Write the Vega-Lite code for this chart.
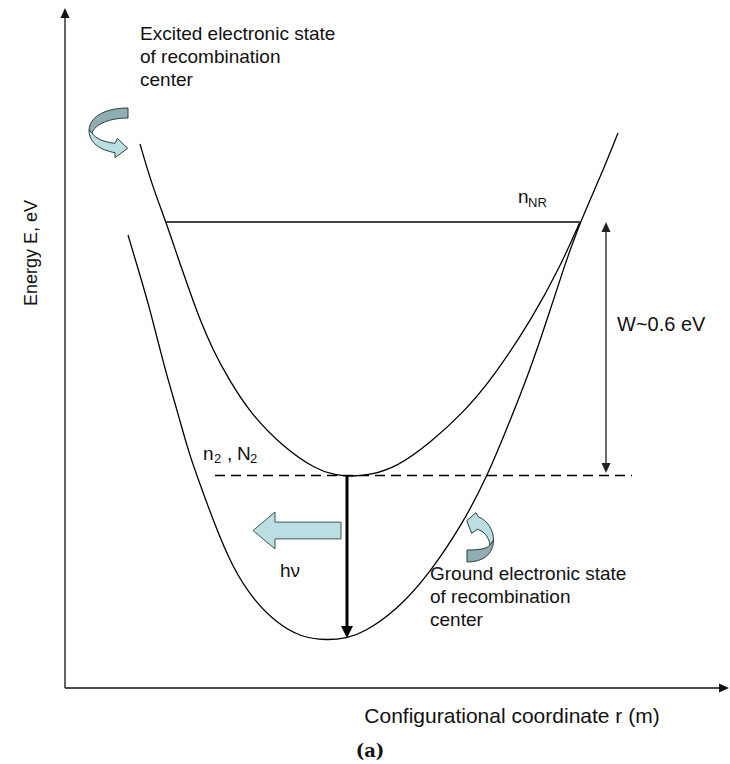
{
  "$schema": "https://vega.github.io/schema/vega-lite/v6.json",
  "width": 730,
  "height": 764,
  "autosize": {"type": "fit", "contains": "padding"},
  "padding": 0,
  "background": "white",
  "config": {"view": {"stroke": null}},
  "datasets": {
    "curves": [
      {"curve": "excited", "r": 75, "E": 544}, {"curve": "excited", "r": 87, "E": 503}, {"curve": "excited", "r": 101, "E": 466},
      {"curve": "excited", "r": 113, "E": 430}, {"curve": "excited", "r": 125, "E": 396}, {"curve": "excited", "r": 135, "E": 368},
      {"curve": "excited", "r": 148, "E": 338}, {"curve": "excited", "r": 163, "E": 310}, {"curve": "excited", "r": 185, "E": 275},
      {"curve": "excited", "r": 218, "E": 241}, {"curve": "excited", "r": 252, "E": 218}, {"curve": "excited", "r": 270, "E": 213},
      {"curve": "excited", "r": 287, "E": 211.5}, {"curve": "excited", "r": 305, "E": 213}, {"curve": "excited", "r": 332, "E": 221},
      {"curve": "excited", "r": 365, "E": 245}, {"curve": "excited", "r": 398, "E": 275}, {"curve": "excited", "r": 428, "E": 310},
      {"curve": "excited", "r": 468, "E": 371}, {"curve": "excited", "r": 495, "E": 421}, {"curve": "excited", "r": 515, "E": 466},
      {"curve": "ground", "r": 63, "E": 453}, {"curve": "ground", "r": 74, "E": 416}, {"curve": "ground", "r": 85, "E": 379},
      {"curve": "ground", "r": 99, "E": 322}, {"curve": "ground", "r": 112, "E": 278}, {"curve": "ground", "r": 123, "E": 238},
      {"curve": "ground", "r": 132, "E": 212}, {"curve": "ground", "r": 148, "E": 168}, {"curve": "ground", "r": 167, "E": 121},
      {"curve": "ground", "r": 190, "E": 86}, {"curve": "ground", "r": 212, "E": 65}, {"curve": "ground", "r": 235, "E": 51},
      {"curve": "ground", "r": 262, "E": 47.5}, {"curve": "ground", "r": 282, "E": 50}, {"curve": "ground", "r": 298, "E": 55},
      {"curve": "ground", "r": 332, "E": 78}, {"curve": "ground", "r": 365, "E": 115}, {"curve": "ground", "r": 398, "E": 165},
      {"curve": "ground", "r": 422, "E": 211}, {"curve": "ground", "r": 445, "E": 267}, {"curve": "ground", "r": 465, "E": 318},
      {"curve": "ground", "r": 482, "E": 368}, {"curve": "ground", "r": 498, "E": 418}, {"curve": "ground", "r": 515, "E": 466},
      {"curve": "ground", "r": 535, "E": 510}, {"curve": "ground", "r": 553, "E": 555}
    ],
    "segments": [
      {"kind": "axis", "r": 0, "E": 0, "r2": 0, "E2": 673},
      {"kind": "axis", "r": 0, "E": 0, "r2": 657, "E2": 0},
      {"kind": "nnr", "r": 101, "E": 466, "r2": 515, "E2": 466},
      {"kind": "dash", "r": 150, "E": 212.5, "r2": 567, "E2": 212.5},
      {"kind": "w", "r": 541, "E": 220, "r2": 541, "E2": 461},
      {"kind": "emit", "r": 282, "E": 212, "r2": 282, "E2": 58}
    ],
    "heads": [
      {"kind": "axis_up", "r": 0, "E": 675},
      {"kind": "axis_right", "r": 659, "E": 0},
      {"kind": "w_up", "r": 541, "E": 461},
      {"kind": "w_down", "r": 541, "E": 220},
      {"kind": "emit_down", "r": 282, "E": 56}
    ],
    "shapes": [
      {"kind": "hv", "r": 232, "E": 157.5},
      {"kind": "curl_tl", "r": 43, "E": 556},
      {"kind": "curl_br", "r": 415, "E": 151}
    ],
    "labels": [
      {"g": "main", "t": "Excited electronic state", "r": 75, "E": 648},
      {"g": "main", "t": "of recombination", "r": 75, "E": 625},
      {"g": "main", "t": "center", "r": 75, "E": 602},
      {"g": "main", "t": "Ground electronic state", "r": 365, "E": 108},
      {"g": "main", "t": "of recombination", "r": 365, "E": 85},
      {"g": "main", "t": "center", "r": 365, "E": 62},
      {"g": "main", "t": "hν", "r": 215, "E": 111},
      {"g": "main", "t": "n", "r": 453, "E": 485},
      {"g": "main", "t": "n", "r": 138, "E": 228},
      {"g": "main", "t": ",", "r": 162, "E": 228},
      {"g": "main", "t": "N", "r": 172, "E": 228},
      {"g": "sub", "t": "NR", "r": 463, "E": 481},
      {"g": "sub", "t": "2", "r": 149, "E": 225},
      {"g": "sub", "t": "2", "r": 185, "E": 225},
      {"g": "w", "t": "W~0.6 eV", "r": 552, "E": 357},
      {"g": "xt", "t": "Configurational coordinate r (m)", "r": 447, "E": -35},
      {"g": "yt", "t": "Energy E, eV", "r": -28, "E": 435},
      {"g": "cap", "t": "(a)", "r": 305, "E": -69}
    ]
  },
  "encoding": {
    "x": {"field": "r", "type": "quantitative", "scale": {"domain": [-65, 665], "nice": false, "zero": false}, "axis": null},
    "y": {"field": "E", "type": "quantitative", "scale": {"domain": [-76, 688], "nice": false, "zero": false}, "axis": null}
  },
  "layer": [
    {
      "data": {"name": "curves"},
      "mark": {"type": "line", "interpolate": "basis", "color": "black", "strokeWidth": 1.3},
      "encoding": {"detail": {"field": "curve", "type": "nominal"}}
    },
    {
      "data": {"name": "segments"},
      "transform": [{"filter": "datum.kind === 'axis'"}],
      "mark": {"type": "rule", "color": "#111", "strokeWidth": 1.3},
      "encoding": {"x2": {"field": "r2"}, "y2": {"field": "E2"}}
    },
    {
      "data": {"name": "segments"},
      "transform": [{"filter": "datum.kind === 'nnr'"}],
      "mark": {"type": "rule", "color": "#444", "strokeWidth": 2},
      "encoding": {"x2": {"field": "r2"}, "y2": {"field": "E2"}}
    },
    {
      "data": {"name": "segments"},
      "transform": [{"filter": "datum.kind === 'dash'"}],
      "mark": {"type": "rule", "color": "black", "strokeWidth": 1.3, "strokeDash": [10, 6]},
      "encoding": {"x2": {"field": "r2"}, "y2": {"field": "E2"}}
    },
    {
      "data": {"name": "segments"},
      "transform": [{"filter": "datum.kind === 'w'"}],
      "mark": {"type": "rule", "color": "#444", "strokeWidth": 1.6},
      "encoding": {"x2": {"field": "r2"}, "y2": {"field": "E2"}}
    },
    {
      "data": {"name": "segments"},
      "transform": [{"filter": "datum.kind === 'emit'"}],
      "mark": {"type": "rule", "color": "black", "strokeWidth": 3},
      "encoding": {"x2": {"field": "r2"}, "y2": {"field": "E2"}}
    },
    {
      "data": {"name": "heads"},
      "transform": [{"filter": "datum.kind === 'axis_up'"}],
      "mark": {"type": "point", "shape": "M0,-1L0.9,1L-0.9,1Z", "size": 100, "filled": true, "fill": "#111", "stroke": null, "opacity": 1}
    },
    {
      "data": {"name": "heads"},
      "transform": [{"filter": "datum.kind === 'axis_right'"}],
      "mark": {"type": "point", "shape": "M1,0L-1,0.9L-1,-0.9Z", "size": 100, "filled": true, "fill": "#111", "stroke": null, "opacity": 1}
    },
    {
      "data": {"name": "heads"},
      "transform": [{"filter": "datum.kind === 'w_up'"}],
      "mark": {"type": "point", "shape": "M0,-1L0.9,1L-0.9,1Z", "size": 100, "filled": true, "fill": "#222", "stroke": null, "opacity": 1}
    },
    {
      "data": {"name": "heads"},
      "transform": [{"filter": "datum.kind === 'w_down'"}],
      "mark": {"type": "point", "shape": "M0,1L0.9,-1L-0.9,-1Z", "size": 100, "filled": true, "fill": "#222", "stroke": null, "opacity": 1}
    },
    {
      "data": {"name": "heads"},
      "transform": [{"filter": "datum.kind === 'emit_down'"}],
      "mark": {"type": "point", "shape": "M0,1L1,-1L-1,-1Z", "size": 144, "filled": true, "fill": "black", "stroke": null, "opacity": 1}
    },
    {
      "data": {"name": "shapes"},
      "transform": [{"filter": "datum.kind === 'hv'"}],
      "mark": {"type": "point", "shape": "M-1,0L-0.5,-0.42L-0.5,-0.19L1,-0.19L1,0.19L-0.5,0.19L-0.5,0.42Z", "size": 7744, "filled": true, "fill": "#badfe3", "stroke": "#3d5555", "strokeWidth": 1, "opacity": 1}
    },
    {
      "data": {"name": "shapes"},
      "transform": [{"filter": "datum.kind === 'curl_tl'"}],
      "mark": {"type": "point", "shape": "M1,-1.2C0,-1.2 -0.9,-0.85 -0.95,-0.1L-0.8,0.05C-0.65,-0.4 0.1,-0.7 1,-0.7Z", "size": 1600, "filled": true, "fill": "#90aeb1", "stroke": "#2c3c3c", "strokeWidth": 1, "opacity": 1}
    },
    {
      "data": {"name": "shapes"},
      "transform": [{"filter": "datum.kind === 'curl_tl'"}],
      "mark": {"type": "point", "shape": "M-0.95,-0.1C-0.95,0.55 -0.4,0.9 0.35,1.035L0.35,1.285L0.985,0.815L0.465,0.315L0.35,0.565C-0.2,0.5 -0.6,0.35 -0.8,0.05Z", "size": 1600, "filled": true, "fill": "#badfe3", "stroke": "#2c3c3c", "strokeWidth": 1, "opacity": 1}
    },
    {
      "data": {"name": "shapes"},
      "transform": [{"filter": "datum.kind === 'curl_br'"}],
      "mark": {"type": "point", "shape": "M0.964,0.214C0.964,1.286 0.143,1.786 -0.929,1.786L-0.929,0.929C-0.143,0.929 0.5,0.857 0.714,0.571Z", "size": 784, "filled": true, "fill": "#90aeb1", "stroke": "#2c3c3c", "strokeWidth": 1, "opacity": 1}
    },
    {
      "data": {"name": "shapes"},
      "transform": [{"filter": "datum.kind === 'curl_br'"}],
      "mark": {"type": "point", "shape": "M-0.95,-1.164L-0.286,-1.736L-0.143,-1.464C0.571,-1.143 0.964,-0.5 0.964,0.214L0.714,0.571C0.643,0 0.286,-0.429 -0.193,-0.55L-0.593,-0.264Z", "size": 784, "filled": true, "fill": "#badfe3", "stroke": "#2c3c3c", "strokeWidth": 1, "opacity": 1}
    },
    {
      "data": {"name": "labels"},
      "transform": [{"filter": "datum.g === 'main'"}],
      "mark": {"type": "text", "font": "Liberation Sans", "fontSize": 19, "align": "left", "baseline": "alphabetic", "color": "#111"},
      "encoding": {"text": {"field": "t"}}
    },
    {
      "data": {"name": "labels"},
      "transform": [{"filter": "datum.g === 'sub'"}],
      "mark": {"type": "text", "font": "Liberation Sans", "fontSize": 13, "align": "left", "baseline": "alphabetic", "color": "#111"},
      "encoding": {"text": {"field": "t"}}
    },
    {
      "data": {"name": "labels"},
      "transform": [{"filter": "datum.g === 'w'"}],
      "mark": {"type": "text", "font": "Liberation Sans", "fontSize": 20, "align": "left", "baseline": "alphabetic", "color": "#111"},
      "encoding": {"text": {"field": "t"}}
    },
    {
      "data": {"name": "labels"},
      "transform": [{"filter": "datum.g === 'xt'"}],
      "mark": {"type": "text", "font": "Liberation Sans", "fontSize": 21, "align": "center", "baseline": "alphabetic", "color": "#111"},
      "encoding": {"text": {"field": "t"}}
    },
    {
      "data": {"name": "labels"},
      "transform": [{"filter": "datum.g === 'yt'"}],
      "mark": {"type": "text", "font": "Liberation Sans", "fontSize": 18, "align": "center", "baseline": "alphabetic", "angle": 270, "color": "#111"},
      "encoding": {"text": {"field": "t"}}
    },
    {
      "data": {"name": "labels"},
      "transform": [{"filter": "datum.g === 'cap'"}],
      "mark": {"type": "text", "font": "DejaVu Serif", "fontWeight": "bold", "fontSize": 18, "align": "center", "baseline": "alphabetic", "color": "#111"},
      "encoding": {"text": {"field": "t"}}
    }
  ]
}
